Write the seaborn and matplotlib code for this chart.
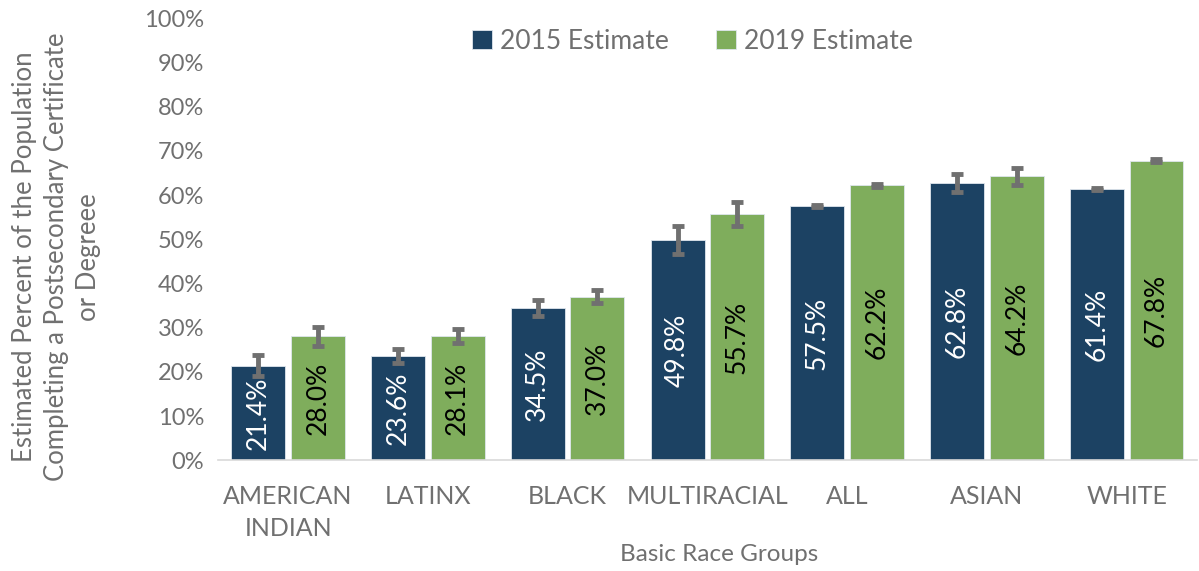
import numpy as np
import pandas as pd
import matplotlib
matplotlib.use("Agg")
import matplotlib.pyplot as plt
import seaborn as sns

# data
groups = ["AMERICAN\nINDIAN", "LATINX", "BLACK", "MULTIRACIAL", "ALL", "ASIAN", "WHITE"]
est_2015 = [21.4, 23.6, 34.5, 49.8, 57.5, 62.8, 61.4]
est_2019 = [28.0, 28.1, 37.0, 55.7, 62.2, 64.2, 67.8]
err_2015 = [2.4, 1.5, 1.8, 3.1, 0.3, 2.0, 0.3]
err_2019 = [2.1, 1.6, 1.5, 2.8, 0.3, 1.9, 0.3]
series = ["2015 Estimate", "2019 Estimate"]

df = pd.DataFrame({
    "group": groups * 2,
    "value": est_2015 + est_2019,
    "series": [series[0]] * len(groups) + [series[1]] * len(groups),
})

sns.set_style("white")
plt.rcParams["font.family"] = ["Lato", "DejaVu Sans"]

grey = "#707070"
colors = ["#10436F", "#7DBA4F"]

fig = plt.figure(figsize=(11.99, 5.71), dpi=100)
ax = fig.add_axes([0.182, 0.194, 0.816, 0.774])

sns.barplot(data=df, x="group", y="value", hue="series", palette=colors,
            width=0.852, gap=0.094, edgecolor="#dfe6ee", linewidth=0.6,
            errorbar=None, ax=ax)

# error bars and labels on each series
errs = [err_2015, err_2019]
txt_colors = ["white", "black"]
bar_conts = list(ax.containers)
for i, cont in enumerate(bar_conts):
    xs = [p.get_x() + p.get_width() / 2 for p in cont.patches]
    hs = [p.get_height() for p in cont.patches]
    ax.errorbar(xs, hs, yerr=errs[i], fmt="none", ecolor=grey,
                elinewidth=3.5, capsize=4.5, capthick=3.5, zorder=5)
    ax.bar_label(cont, labels=[f"{v:.1f}%" for v in hs], label_type="center",
                 rotation=90, color=txt_colors[i], fontsize=19)

ax.set_ylim(0, 100)
ax.set_xlim(-0.5, 6.5)
ax.set_yticks(np.arange(0, 101, 10))
ax.set_yticklabels([f"{t}%" for t in range(0, 101, 10)])
ax.set_xticks(range(len(groups)))
ax.set_xticklabels(groups, linespacing=1.45)
ax.tick_params(axis="both", colors=grey, length=0)
ax.tick_params(axis="y", labelsize=17, pad=10)
ax.tick_params(axis="x", labelsize=18, pad=18)
for s in ["top", "right", "left"]:
    ax.spines[s].set_visible(False)
ax.spines["bottom"].set_color("#d9d9d9")
ax.spines["bottom"].set_linewidth(1.2)

ax.set_xlabel("Basic Race Groups", color=grey, fontsize=17.5)
ax.xaxis.set_label_coords(0.512, -0.19)
ax.set_ylabel("Estimated Percent of the Population\nCompleting a Postsecondary Certificate\nor Degreee",
              color=grey, fontsize=18.5, linespacing=1.35)
ax.yaxis.set_label_coords(-0.12, 0.46)

leg = ax.legend(loc="upper center", bbox_to_anchor=(0.485, 1.03), ncol=2,
                frameon=False, fontsize=19, handlelength=0.75, handleheight=0.75,
                handletextpad=0.3, columnspacing=1.8)
for t in leg.get_texts():
    t.set_color(grey)

fig.savefig("out.png", dpi=100)
